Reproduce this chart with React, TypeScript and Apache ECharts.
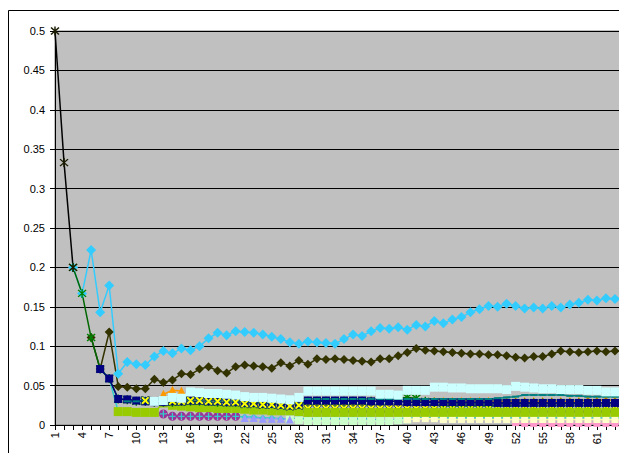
import React, { useEffect, useRef } from "react";
import * as echarts from "echarts";

// Category labels along the x axis
const categories = [
  "1", "2", "3", "4", "5", "6", "7", "8", "9", "10", "11", "12", "13", "14", "15", "16",
  "17", "18", "19", "20", "21", "22", "23", "24", "25", "26", "27", "28", "29", "30", "31", "32",
  "33", "34", "35", "36", "37", "38", "39", "40", "41", "42", "43", "44", "45", "46", "47", "48",
  "49", "50", "51", "52", "53", "54", "55", "56", "57", "58", "59", "60", "61", "62", "63", "64",
];

// Each series: first category number where it begins, then its values
const blackStart = 1;
const blackValues = [0.5, 0.333, 0.2];

const cyanStart = 3;
const cyanValues = [
  0.2, 0.167, 0.222, 0.143, 0.177, 0.065, 0.08, 0.077, 0.076, 0.087,
  0.094, 0.091, 0.097, 0.095, 0.1, 0.11, 0.117, 0.114, 0.119, 0.118,
  0.117, 0.115, 0.112, 0.109, 0.105, 0.103, 0.106, 0.105, 0.104, 0.103,
  0.109, 0.115, 0.113, 0.119, 0.123, 0.122, 0.124, 0.121, 0.127, 0.125,
  0.132, 0.129, 0.134, 0.137, 0.143, 0.147, 0.151, 0.15, 0.154, 0.151,
  0.148, 0.149, 0.148, 0.151, 0.149, 0.153, 0.155, 0.159, 0.158, 0.161,
  0.16, 0.161,
];

const oliveStart = 5;
const oliveValues = [
  0.111, 0.071, 0.118, 0.049, 0.048, 0.046, 0.046, 0.058, 0.054, 0.057,
  0.065, 0.064, 0.071, 0.074, 0.069, 0.066, 0.074, 0.076, 0.075, 0.074,
  0.072, 0.079, 0.075, 0.082, 0.077, 0.084, 0.083, 0.084, 0.083, 0.082,
  0.081, 0.08, 0.084, 0.084, 0.088, 0.092, 0.097, 0.095, 0.094, 0.093,
  0.092, 0.091, 0.09, 0.09, 0.089, 0.089, 0.088, 0.086, 0.085, 0.087,
  0.087, 0.09, 0.094, 0.093, 0.092, 0.093, 0.094, 0.093, 0.094, 0.094,
];

const greenStart = 3;
const greenValues = [
  0.2, 0.167, 0.111, 0.071, 0.059, 0.033, 0.032, 0.03, 0.03, 0.029,
  0.029, 0.029, 0.03, 0.03, 0.03, 0.03, 0.029, 0.029, 0.029, 0.028,
  0.028, 0.027, 0.027, 0.026, 0.025, 0.026, 0.03, 0.03, 0.03, 0.03,
  0.03, 0.03, 0.03, 0.03, 0.03, 0.031, 0.034, 0.035, 0.034, 0.03,
  0.029, 0.028, 0.028, 0.028, 0.028, 0.028, 0.028, 0.028, 0.028, 0.028,
  0.028, 0.028, 0.028, 0.028, 0.028, 0.028, 0.028, 0.028, 0.028, 0.028,
  0.028, 0.028,
];

const navyStart = 6;
const navyValues = [
  0.071, 0.059, 0.033, 0.0325, 0.031, 0.03, 0.029, 0.029, 0.03, 0.03,
  0.031, 0.031, 0.03, 0.03, 0.029, 0.029, 0.028, 0.028, 0.027, 0.027,
  0.026, 0.025, 0.026, 0.031, 0.031, 0.031, 0.031, 0.031, 0.031, 0.031,
  0.03, 0.03, 0.03, 0.03, 0.029, 0.029, 0.029, 0.029, 0.029, 0.029,
  0.029, 0.029, 0.029, 0.029, 0.028, 0.028, 0.028, 0.028, 0.028, 0.028,
  0.028, 0.028, 0.028, 0.028, 0.028, 0.028, 0.028, 0.028, 0.028,
];

const turquoiseStart = 6;
const turquoiseValues = [
  0.071, 0.059, 0.017, 0.017, 0.016, 0.016, 0.016, 0.014, 0.011, 0.011,
  0.011, 0.011, 0.011, 0.011, 0.011, 0.011, 0.01, 0.01, 0.009, 0.009,
  0.008, 0.008, 0.008, 0.008, 0.008, 0.008, 0.008, 0.008, 0.008, 0.008,
  0.008, 0.005, 0.005, 0.008, 0.009, 0.009, 0.009, 0.009, 0.009, 0.009,
  0.009, 0.009, 0.009, 0.009, 0.009, 0.009, 0.009, 0.009, 0.009, 0.009,
  0.009, 0.009, 0.009, 0.009, 0.009, 0.009, 0.009, 0.009, 0.009,
];

const tealStart = 9;
const tealValues = [
  0.03, 0.03, 0.031, 0.031, 0.031, 0.031, 0.031, 0.031, 0.031, 0.03,
  0.03, 0.03, 0.03, 0.029, 0.029, 0.028, 0.028, 0.028, 0.027, 0.027,
  0.033, 0.033, 0.033, 0.033, 0.033, 0.033, 0.033, 0.033, 0.033, 0.033,
  0.033, 0.033, 0.033, 0.033, 0.033, 0.033, 0.033, 0.033, 0.033, 0.033,
  0.033, 0.034, 0.035, 0.036, 0.038, 0.038, 0.038, 0.038, 0.038, 0.037,
  0.037, 0.036, 0.036, 0.036, 0.036, 0.036,
];

// The X-marked series, split where it slips beneath the navy band
const yellowXStart = 11;
const yellowXValues = [
  0.031, 0.03, 0.03, 0.03, 0.03, 0.031, 0.031, 0.03, 0.03, 0.029,
  0.029, 0.027, 0.027, 0.026, 0.026, 0.025, 0.024, 0.025,
];
const yellowXLowStart = 28;
const yellowXLowValues = [
  0.025, 0.021, 0.021, 0.021, 0.021, 0.021, 0.021, 0.021, 0.021, 0.021,
  0.021, 0.021, 0.021, 0.021, 0.021, 0.021, 0.021, 0.021, 0.021, 0.021,
  0.021, 0.021, 0.021, 0.021, 0.021, 0.021, 0.021, 0.021, 0.021, 0.021,
  0.021, 0.021, 0.021, 0.021, 0.021, 0.021, 0.021,
];

const lightCyanStart = 12;
const lightCyanValues = [
  0.03, 0.031, 0.035, 0.034, 0.042, 0.041, 0.04, 0.04, 0.039, 0.038,
  0.036, 0.035, 0.035, 0.034, 0.033, 0.032, 0.035, 0.043, 0.043, 0.043,
  0.043, 0.043, 0.043, 0.043, 0.043, 0.039, 0.039, 0.038, 0.044, 0.044,
  0.044, 0.048, 0.048, 0.047, 0.047, 0.046, 0.046, 0.046, 0.046, 0.045,
  0.049, 0.048, 0.047, 0.046, 0.046, 0.045, 0.045, 0.045, 0.044, 0.044,
  0.042, 0.042, 0.041,
];

const limeStart = 8;
const limeValues = [
  0.017, 0.017, 0.016, 0.016, 0.016, 0.028, 0.025, 0.024, 0.023, 0.022,
  0.022, 0.021, 0.021, 0.021, 0.02, 0.019, 0.019, 0.018, 0.018, 0.018,
  0.017, 0.016, 0.016, 0.016, 0.016, 0.016, 0.016, 0.016, 0.016, 0.016,
  0.016, 0.016, 0.016, 0.016, 0.016, 0.016, 0.016, 0.016, 0.016, 0.016,
  0.016, 0.016, 0.016, 0.016, 0.016, 0.016, 0.016, 0.016, 0.016, 0.016,
  0.016, 0.016, 0.016, 0.016, 0.016, 0.016, 0.016,
];

const orangeStart = 13;
const orangeValues = [
  0.039, 0.044, 0.043, 0.031, 0.031, 0.03, 0.03, 0.029, 0.029, 0.028,
  0.028, 0.027, 0.027, 0.027, 0.029, 0.031, 0.03, 0.03, 0.03, 0.03,
  0.03, 0.03, 0.03, 0.03, 0.03, 0.03, 0.03, 0.03, 0.03, 0.03,
  0.03, 0.03, 0.03, 0.03, 0.03, 0.03, 0.03, 0.03, 0.03, 0.03,
  0.03, 0.03, 0.03, 0.03, 0.03, 0.03, 0.03, 0.032, 0.031, 0.032,
  0.031, 0.031,
];

const purpleStart = 13;
const purpleValues = [0.014, 0.011, 0.011, 0.011, 0.011, 0.011, 0.011, 0.011, 0.011];

const lavenderStart = 22;
const lavenderValues = [0.009, 0.009, 0.008, 0.008, 0.008, 0.007];

const paleGreenStart = 27;
const paleGreenValues = [
  0.007, 0.006, 0.005, 0.005, 0.005, 0.005, 0.005, 0.005, 0.005, 0.005,
  0.005, 0.005, 0.006, 0.007,
];

const paleYellowStart = 40;
const paleYellowValues = [
  0.007, 0.008, 0.008, 0.008, 0.007, 0.007, 0.007, 0.007, 0.007, 0.007,
  0.007, 0.007, 0.007, 0.007, 0.007, 0.007, 0.007, 0.007, 0.007, 0.007,
  0.007, 0.007, 0.007, 0.007, 0.007,
];

const pinkStart = 52;
const pinkValues = [
  0.003, 0.002, 0.002, 0.002, 0.002, 0.002, 0.002, 0.002, 0.002, 0.002,
  0.002, 0.002, 0.002,
];

const yTicks = { min: 0, max: 0.5, interval: 0.05 };

// Marker shapes
const asterisk =
  "path://M4.3,0H5.7V10H4.3Z M0.6,1.6L1.6,0.6L9.4,8.4L8.4,9.4Z M8.4,0.6L9.4,1.6L1.6,9.4L0.6,8.4Z";
const crossX =
  "path://M0,0H2.2L5,2.8L7.8,0H10V2.2L7.2,5L10,7.8V10H7.8L5,7.2L2.2,10H0V7.8L2.8,5L0,2.2Z";
// disc with a plus-shaped cut-out
const crossedDisc =
  "path://M5,0A5,5 0 1,1 5,10A5,5 0 1,1 5,0Z M4.3,1L4.3,4.3L1,4.3L1,5.7L4.3,5.7L4.3,9L5.7,9L5.7,5.7L9,5.7L9,4.3L5.7,4.3L5.7,1Z";

function place(start: number, values: number[]) {
  const lead: (number | null)[] = new Array(start - 1).fill(null);
  return lead.concat(values);
}

function line(
  name: string,
  start: number,
  values: number[],
  lineColor: string,
  symbol: string,
  symbolSize: number | number[],
  markerColor: string,
  lineWidth = 1.5,
  borderColor?: string
) {
  return {
    name,
    type: "line",
    data: place(start, values),
    symbol,
    symbolSize,
    showSymbol: true,
    showAllSymbol: true,
    connectNulls: false,
    lineStyle: { color: lineColor, width: lineWidth },
    itemStyle: {
      color: markerColor,
      borderColor: borderColor || markerColor,
      borderWidth: borderColor ? 0.8 : 0,
    },
    emphasis: { disabled: true },
  };
}

export default function App() {
  const ref = useRef<HTMLDivElement>(null);

  useEffect(() => {
    if (!ref.current) return;
    const chart = echarts.init(ref.current, null, { renderer: "svg" });
    const font = "'Liberation Sans', Arial, sans-serif";
    chart.setOption({
      animation: false,
      backgroundColor: "#ffffff",
      textStyle: { fontFamily: font },
      graphic: [
        {
          type: "rect",
          shape: { x: 8.5, y: 10.5, width: 700, height: 520 },
          style: { fill: "none", stroke: "#000000", lineWidth: 1 },
          silent: true,
        },
      ],
      grid: {
        left: 55,
        top: 31,
        right: 36,
        bottom: 55,
        show: true,
        backgroundColor: "#C0C0C0",
        borderColor: "#808080",
        borderWidth: 1,
        outerBoundsMode: "none",
      },
      xAxis: {
        type: "category",
        data: categories,
        boundaryGap: false,
        axisLine: { show: true, lineStyle: { color: "#000000", width: 1 } },
        axisTick: { show: true, length: 5, interval: 0, lineStyle: { color: "#000000" } },
        axisLabel: {
          // every third category, up to the last one inside the frame
          interval: (i: number) => i % 3 === 0 && i <= 60,
          rotate: 90,
          fontSize: 11,
          color: "#000000",
          fontFamily: font,
          margin: 7,
        },
        splitLine: { show: false },
      },
      yAxis: {
        type: "value",
        min: yTicks.min,
        max: yTicks.max,
        interval: yTicks.interval,
        axisLine: { show: true, lineStyle: { color: "#000000", width: 1 } },
        axisTick: { show: true, length: 5, lineStyle: { color: "#000000" } },
        axisLabel: {
          fontSize: 11,
          color: "#000000",
          fontFamily: font,
          margin: 10,
          formatter: (v: number) => String(Number(v.toFixed(2))),
        },
        splitLine: { show: true, lineStyle: { color: "#000000", width: 1 } },
      },
      series: [
        line("cyan", cyanStart, cyanValues, "#33CCFF", "diamond", 10, "#33CCFF"),
        line("olive", oliveStart, oliveValues, "#333300", "diamond", 9, "#333300"),
        line("turquoise", turquoiseStart, turquoiseValues, "#33CCCC", "diamond", 7, "#33CCCC"),
        line("paleGreen", paleGreenStart, paleGreenValues, "#CCFFCC", "rect", 8, "#CCFFCC"),
        line("pink", pinkStart, pinkValues, "#FF99CC", "rect", 7, "#FF99CC"),
        line("paleYellow", paleYellowStart, paleYellowValues, "#FFFF99", "rect", 7, "#FFFFCC"),
        line("lavender", lavenderStart, lavenderValues, "#9999FF", "triangle", 8, "#9999FF"),
        line("purple", purpleStart, purpleValues, "#993399", crossedDisc, 9, "#993399"),
        line("orange", orangeStart, orangeValues, "#FF9900", "triangle", 9, "#FF9900"),
        line("yellowXLow", yellowXLowStart, yellowXLowValues, "#FFFF00", crossX, 8, "#FFFF00", 1, "#003366"),
        line("lime", limeStart, limeValues, "#99CC00", "rect", 9, "#99CC00"),
        line("green", greenStart, greenValues, "#006600", asterisk, 9, "#008000"),
        line("navy", navyStart, navyValues, "#000080", "rect", 8, "#000080"),
        line("teal", tealStart, tealValues, "#008080", "rect", [7, 2], "#008080"),
        line("yellowX", yellowXStart, yellowXValues, "#FFFF00", crossX, 8, "#FFFF00", 1, "#003366"),
        line("lightCyan", lightCyanStart, lightCyanValues, "#CCFFFF", "rect", 9, "#CCFFFF"),
        line("black", blackStart, blackValues, "#000000", asterisk, 9, "#1a1a00"),
      ],
    });
    return () => chart.dispose();
  }, []);

  return (
    <div
      style={{
        position: "fixed",
        left: 0,
        top: 0,
        width: 619,
        height: 453,
        overflow: "hidden",
        background: "#ffffff",
      }}
    >
      <div ref={ref} style={{ width: 660, height: 480 }} />
    </div>
  );
}
